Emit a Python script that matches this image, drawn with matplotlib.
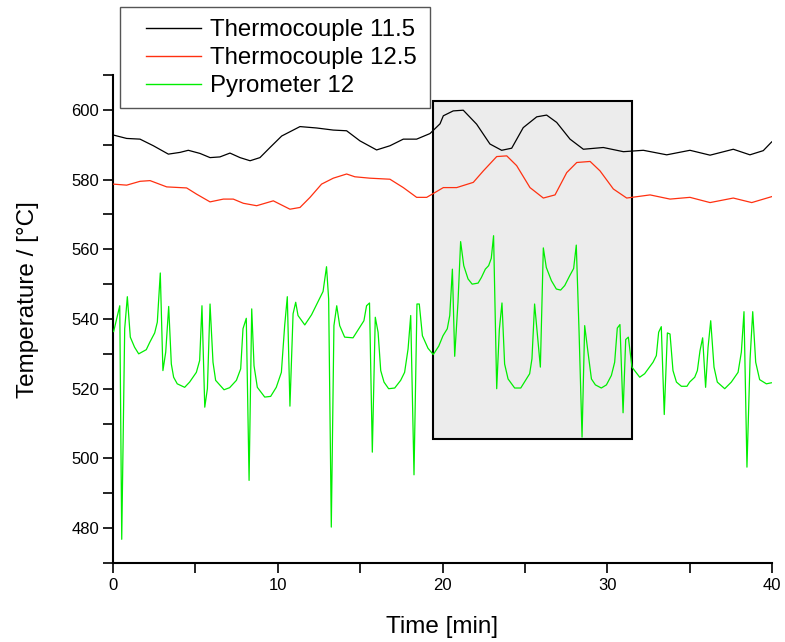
import matplotlib
matplotlib.use("Agg")
import matplotlib.pyplot as plt
from matplotlib.patches import Rectangle
from matplotlib.ticker import MultipleLocator

plt.rcParams['font.family'] = ['Liberation Sans', 'DejaVu Sans']

# ---- data ----
tc115_t = [0.0, 0.83, 1.64, 2.45, 3.36, 4.07, 4.57, 5.28, 5.89, 6.49, 7.1, 7.71, 8.32, 8.92,
           9.53, 10.24, 11.35, 12.36, 13.37, 14.18, 14.99, 16.0, 16.81, 17.62, 18.43, 19.24,
           19.85, 20.05, 20.65, 21.26, 22.07, 22.88, 23.59, 24.2, 24.9, 25.72, 26.32, 26.93,
           27.74, 28.55, 29.76, 30.98, 32.19, 33.61, 35.02, 36.24, 37.65, 38.66, 39.47, 39.98]
tc115_T = [592.8, 591.8, 591.6, 589.7, 587.3, 587.8, 588.4, 587.5, 586.3, 586.5, 587.6, 586.3,
           585.4, 586.3, 589.2, 592.5, 595.2, 594.8, 594.2, 594.0, 591.1, 588.5, 589.7, 591.6,
           591.6, 593.2, 596.0, 598.3, 599.7, 599.9, 595.9, 590.2, 588.4, 589.0, 594.9, 598.0,
           598.5, 596.4, 591.6, 588.7, 589.2, 588.0, 588.4, 587.1, 588.4, 587.0, 588.7, 587.1,
           588.3, 590.8]

tc125_t = [0.0, 0.83, 1.64, 2.25, 3.26, 4.47, 5.08, 5.89, 6.7, 7.3, 7.91, 8.72, 9.73, 10.74,
           11.35, 11.96, 12.66, 13.37, 14.18, 14.68, 15.59, 16.81, 17.62, 18.43, 19.04, 19.44,
           20.05, 20.86, 21.87, 22.48, 23.29, 23.9, 24.5, 25.31, 26.12, 26.83, 27.54, 28.15,
           28.96, 29.56, 30.37, 31.18, 32.6, 33.81, 35.02, 36.24, 37.65, 38.77, 39.98]
tc125_T = [578.7, 578.4, 579.5, 579.7, 577.9, 577.6, 575.8, 573.6, 574.4, 574.4, 573.2, 572.5,
           573.9, 571.5, 572.0, 574.9, 578.7, 580.4, 581.6, 580.8, 580.4, 580.1, 577.7, 574.9,
           574.9, 576.0, 577.7, 577.7, 579.2, 582.5, 586.6, 586.8, 584.0, 577.7, 574.7, 575.6,
           582.0, 584.9, 585.2, 582.5, 577.3, 574.7, 575.6, 574.4, 574.9, 573.4, 574.7, 573.4,
           575.1]

pyro_t = [0.04, 0.41, 0.53, 0.71, 0.87, 1.05, 1.31, 1.56, 2.02, 2.23, 2.53, 2.69, 2.87, 3.03,
          3.2, 3.38, 3.54, 3.68, 3.9, 4.35, 4.65, 5.06, 5.26, 5.4, 5.57, 5.73, 5.89, 6.07,
          6.23, 6.74, 7.08, 7.49, 7.75, 7.89, 8.09, 8.26, 8.42, 8.56, 8.76, 9.21, 9.57, 9.91,
          10.22, 10.42, 10.58, 10.74, 10.93, 11.09, 11.23, 11.64, 12.05, 12.45, 12.75, 12.96,
          13.09, 13.25, 13.41, 13.58, 13.76, 14.06, 14.57, 14.97, 15.23, 15.39, 15.57, 15.74,
          15.92, 16.09, 16.25, 16.45, 16.73, 17.1, 17.46, 17.7, 17.91, 18.07, 18.27, 18.45,
          18.59, 18.78, 19.12, 19.44, 19.77, 20.03, 20.29, 20.44, 20.6, 20.74, 20.94, 21.1,
          21.29, 21.55, 21.8, 22.16, 22.36, 22.6, 22.8, 22.96, 23.1, 23.29, 23.45, 23.61,
          23.77, 23.98, 24.38, 24.75, 24.95, 25.29, 25.43, 25.59, 25.94, 26.12, 26.3, 26.61,
          26.91, 27.17, 27.42, 27.72, 27.96, 28.12, 28.29, 28.47, 28.63, 28.83, 29.04, 29.28,
          29.64, 29.95, 30.25, 30.45, 30.61, 30.77, 30.96, 31.12, 31.28, 31.5, 31.97, 32.27,
          32.78, 32.98, 33.12, 33.28, 33.46, 33.65, 33.81, 33.99, 34.2, 34.5, 34.84, 35.0,
          35.31, 35.47, 35.63, 35.79, 35.97, 36.12, 36.28, 36.48, 36.68, 37.13, 37.53, 37.94,
          38.14, 38.3, 38.48, 38.67, 38.83, 39.01, 39.25, 39.66, 39.96]
pyro_T = [536.4, 543.8, 476.8, 537.2, 546.4, 534.8, 531.9, 530.0, 531.2, 533.3, 536.0, 539.1,
          553.2, 525.2, 530.5, 543.6, 527.1, 523.3, 521.4, 520.4, 521.9, 524.7, 528.1, 543.8,
          514.7, 520.0, 544.3, 527.6, 522.4, 519.7, 520.3, 522.4, 525.7, 537.2, 540.2, 493.7,
          542.9, 526.6, 520.4, 517.6, 517.8, 520.4, 524.7, 538.1, 546.4, 515.0, 541.5, 544.8,
          541.0, 538.3, 541.2, 545.0, 547.9, 555.0, 545.7, 480.3, 538.1, 543.8, 538.1, 534.8,
          534.6, 537.6, 539.5, 543.8, 544.6, 501.8, 540.5, 536.2, 525.2, 521.9, 520.0, 520.2,
          522.4, 524.7, 531.4, 541.0, 495.3, 544.3, 544.3, 535.2, 531.6, 529.8, 532.2, 535.2,
          537.2, 541.0, 554.3, 529.3, 544.8, 562.2, 555.3, 551.5, 550.0, 550.3, 551.9, 554.3,
          555.3, 557.4, 563.9, 520.0, 537.0, 544.6, 527.1, 522.8, 520.2, 520.2, 521.7, 524.3,
          528.6, 544.3, 526.2, 560.4, 554.8, 551.0, 548.6, 548.3, 549.6, 552.4, 554.5, 561.2,
          536.2, 506.1, 538.1, 530.5, 522.8, 521.1, 520.2, 521.1, 523.8, 527.6, 537.4, 538.4,
          513.1, 534.1, 534.8, 526.2, 523.3, 524.3, 527.6, 529.5, 536.2, 537.8, 512.6, 536.0,
          535.7, 525.2, 521.9, 520.7, 520.7, 521.9, 523.3, 525.2, 530.9, 534.6, 520.4, 531.9,
          539.5, 526.2, 521.9, 520.0, 521.9, 524.7, 530.5, 542.1, 497.5, 528.6, 542.1, 527.6,
          522.6, 521.4, 521.7]

highlight_t = (19.42, 31.5)
highlight_T = (505.7, 602.6)

labels = ["Thermocouple 11.5", "Thermocouple 12.5", "Pyrometer 12"]
colors = ["#000000", "#ff3010", "#00ee00"]

W, H = 785, 642

# ---- figure ----
fig = plt.figure(figsize=(W / 100, H / 100), dpi=100)
ax = fig.add_axes([113 / W, 1 - 563 / H, (772 - 113) / W, (563 - 75) / H])

ax.add_patch(Rectangle((highlight_t[0], highlight_T[0]),
                       highlight_t[1] - highlight_t[0], highlight_T[1] - highlight_T[0],
                       facecolor="#ececec", edgecolor="black", linewidth=1.5, zorder=1))

l1, = ax.plot(tc115_t, tc115_T, color=colors[0], lw=0.9, zorder=3)
l2, = ax.plot(tc125_t, tc125_T, color=colors[1], lw=0.9, zorder=3)
l3, = ax.plot(pyro_t, pyro_T, color=colors[2], lw=0.9, zorder=3)

ax.set_xlim(0, 40)
ax.set_ylim(470, 610)
ax.xaxis.set_major_locator(MultipleLocator(10))
ax.xaxis.set_minor_locator(MultipleLocator(5))
ax.yaxis.set_major_locator(MultipleLocator(20))
ax.yaxis.set_minor_locator(MultipleLocator(10))
ax.tick_params(which='both', direction='out', length=7, width=1.2, labelsize=12)
ax.tick_params(axis='y', pad=3)
for s in ['top', 'right']:
    ax.spines[s].set_visible(False)
for s in ['left', 'bottom']:
    ax.spines[s].set_linewidth(1.5)

ax.set_xlabel("Time [min]", fontsize=17.5, labelpad=17)
ax.set_ylabel("Temperature / [°C]", fontsize=17.5)
ax.yaxis.set_label_coords(-0.112, 0.54)

# legend frame drawn as a figure-level box, legend entries placed inside it
fig.patches.append(Rectangle((120 / W, 1 - 108 / H), (430 - 120) / W, (108 - 7) / H,
                             transform=fig.transFigure, facecolor="white",
                             edgecolor="#555555", linewidth=1.0, zorder=9))
leg = fig.legend([l1, l2, l3], labels, loc='upper left',
                 bbox_to_anchor=(146 / W, 1 - 19 / H), bbox_transform=fig.transFigure,
                 fontsize=17.3, frameon=False, handlelength=2.3, handletextpad=0.35,
                 labelspacing=0.25, borderpad=0.0, borderaxespad=0)
leg.set_zorder(10)
for h in leg.get_lines():
    h.set_linewidth(1.0)

fig.savefig("out.png", dpi=100)
